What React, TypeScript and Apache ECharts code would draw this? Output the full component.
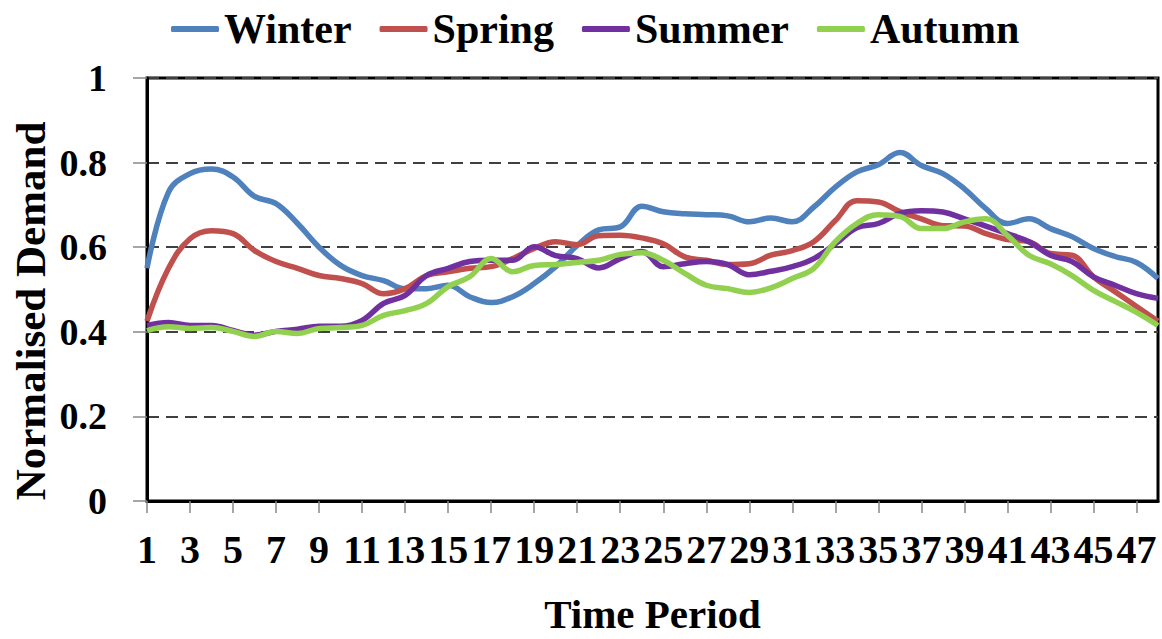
import React, { useEffect, useRef } from "react";
import * as echarts from "echarts";

const periods: string[] = Array.from({ length: 48 }, (_, i) => String(i + 1));

const winter = [0.55, 0.73, 0.774, 0.785, 0.766, 0.72, 0.703, 0.656, 0.6, 0.557, 0.533, 0.521, 0.502, 0.502, 0.51, 0.483, 0.469, 0.483, 0.514, 0.554, 0.604, 0.641, 0.648, 0.697, 0.684, 0.679, 0.677, 0.674, 0.66, 0.669, 0.66, 0.695, 0.742, 0.778, 0.795, 0.824, 0.793, 0.774, 0.738, 0.691, 0.656, 0.667, 0.644, 0.625, 0.597, 0.578, 0.564, 0.526];
const spring = [0.425, 0.55, 0.62, 0.639, 0.632, 0.592, 0.566, 0.55, 0.533, 0.526, 0.514, 0.49, 0.502, 0.533, 0.542, 0.55, 0.554, 0.573, 0.597, 0.613, 0.606, 0.627, 0.628, 0.622, 0.608, 0.577, 0.569, 0.559, 0.561, 0.581, 0.592, 0.613, 0.663, 0.71, 0.707, 0.684, 0.667, 0.651, 0.65, 0.632, 0.618, 0.613, 0.585, 0.581, 0.53, 0.495, 0.46, 0.425];
const summer = [0.415, 0.422, 0.415, 0.415, 0.403, 0.392, 0.401, 0.406, 0.413, 0.413, 0.427, 0.467, 0.486, 0.533, 0.55, 0.566, 0.569, 0.569, 0.601, 0.58, 0.573, 0.551, 0.573, 0.59, 0.554, 0.561, 0.566, 0.559, 0.535, 0.543, 0.554, 0.573, 0.608, 0.646, 0.656, 0.68, 0.686, 0.683, 0.667, 0.65, 0.632, 0.613, 0.581, 0.566, 0.53, 0.51, 0.49, 0.479];
const autumn = [0.403, 0.412, 0.408, 0.41, 0.401, 0.389, 0.401, 0.396, 0.408, 0.41, 0.415, 0.439, 0.45, 0.467, 0.507, 0.53, 0.573, 0.542, 0.557, 0.559, 0.564, 0.569, 0.583, 0.587, 0.569, 0.538, 0.51, 0.502, 0.493, 0.504, 0.526, 0.55, 0.613, 0.656, 0.677, 0.673, 0.644, 0.644, 0.66, 0.667, 0.628, 0.581, 0.561, 0.533, 0.498, 0.472, 0.446, 0.415];

const seriesNames = ["Winter", "Spring", "Summer", "Autumn"];
const seriesColors = ["#4F81BD", "#C0504D", "#7030A0", "#92D050"];
const seriesData = [winter, spring, summer, autumn];

const FONT = "'Liberation Serif', 'Times New Roman', serif";

export default function App() {
  const ref = useRef<HTMLDivElement>(null);
  useEffect(() => {
    if (!ref.current) return;
    const chart = echarts.init(ref.current, undefined, { renderer: "svg" });
    chart.setOption({
      animation: false,
      backgroundColor: "#ffffff",
      textStyle: { fontFamily: FONT },
      legend: {
        left: 166,
        top: 3,
        itemGap: 28,
        itemWidth: 48,
        itemHeight: 6,
        icon: "roundRect",
        data: seriesNames,
        textStyle: { fontFamily: FONT, fontSize: 42, fontWeight: "bold", color: "#000" },
      },
      grid: {
        left: 147,
        right: 4,
        top: 78,
        bottom: 136,
        show: true,
        borderColor: "#000",
        borderWidth: 3,
      },
      xAxis: {
        type: "category",
        data: periods,
        boundaryGap: false,
        name: "Time Period",
        nameLocation: "middle",
        nameGap: 92,
        nameTextStyle: { fontFamily: FONT, fontSize: 41, fontWeight: "bold", color: "#000" },
        axisLine: { show: true, lineStyle: { color: "#000", width: 3 } },
        axisTick: { show: true, interval: 1, length: 12, lineStyle: { color: "#888", width: 1.5 } },
        axisLabel: { interval: 1, margin: 28, fontFamily: FONT, fontSize: 40, fontWeight: "bold", color: "#000" },
        splitLine: { show: false },
      },
      yAxis: {
        type: "value",
        min: 0,
        max: 1,
        interval: 0.2,
        axisLine: { show: true, lineStyle: { color: "#000", width: 3 } },
        axisTick: { show: true, length: 14, lineStyle: { color: "#888", width: 1.5 } },
        axisLabel: {
          margin: 40,
          fontFamily: FONT,
          fontSize: 38,
          fontWeight: "bold",
          color: "#000",
          formatter: (v: number) => String(+v.toFixed(1)),
        },
        splitLine: { show: true, lineStyle: { color: "#404040", width: 2, type: [12, 7] } },
      },
      graphic: [
        {
          type: "text",
          x: 30,
          y: 311,
          rotation: Math.PI / 2,
          style: {
            text: "Normalised Demand",
            fontFamily: FONT,
            fontSize: 43,
            fontWeight: "bold",
            fill: "#000",
            textAlign: "center",
            textVerticalAlign: "middle",
          },
        },
      ],
      series: seriesNames.map((name, i) => ({
        name,
        type: "line",
        data: seriesData[i],
        smooth: 0.4,
        symbol: "none",
        color: seriesColors[i],
        lineStyle: { width: 5.5, color: seriesColors[i] },
        itemStyle: { color: seriesColors[i] },
      })),
    });
    return () => chart.dispose();
  }, []);
  return (
    <div
      ref={ref}
      style={{ position: "absolute", left: 0, top: 0, width: 1162, height: 639 }}
    />
  );
}
